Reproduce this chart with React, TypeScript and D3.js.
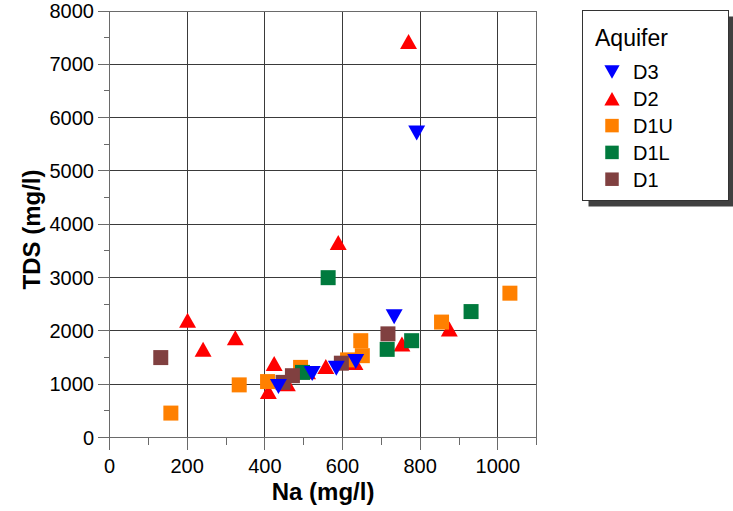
import React from "react";
import * as d3 from "d3";

// Na vs TDS by aquifer — values in mg/l
const seriesNames = ["D3", "D2", "D1U", "D1L", "D1"];
const seriesColors = ["#0000FF", "#FF0000", "#FF8000", "#007A3D", "#804040"];
const seriesShapes = ["down", "up", "square", "square", "square"];

const naD3 = [435, 522, 584, 634, 733, 791];
const tdsD3 = [955, 1200, 1300, 1425, 2263, 5710];

const naD2 = [770, 589, 201, 324, 241, 875, 753, 632, 557, 510, 458, 424, 409];
const tdsD2 = [7428, 3660, 2201, 1872, 1653, 2034, 1756, 1409, 1330, 1235, 1006, 1388, 861];

const naD1U = [158, 334, 407, 492, 613, 647, 651, 855, 1031];
const tdsD1U = [458, 987, 1049, 1315, 1456, 1816, 1535, 2165, 2707];

const naD1L = [563, 931, 778, 715, 497];
const tdsD1L = [2998, 2362, 1816, 1653, 1221];

const naD1 = [132, 717, 597, 471, 447];
const tdsD1 = [1499, 1944, 1394, 1159, 1034];

const xMajorTicks = [0, 200, 400, 600, 800, 1000];
const xMinorTicks = [100, 300, 500, 700, 900, 1100];
const yMajorTicks = [0, 1000, 2000, 3000, 4000, 5000, 6000, 7000, 8000];
const yMinorTicks = [500, 1500, 2500, 3500, 4500, 5500, 6500, 7500];

const xTitle = "Na (mg/l)";
const yTitle = "TDS (mg/l)";
const legendTitle = "Aquifer";

const FONT = "'Liberation Sans', Arial, Helvetica, sans-serif";

const W = 733;
const H = 511;

const x = d3.scaleLinear().domain([0, 1100]).range([109.5, 536.7]);
const y = d3.scaleLinear().domain([0, 8000]).range([437.5, 11]);

const seriesData: { na: number[]; tds: number[] }[] = [
  { na: naD3, tds: tdsD3 },
  { na: naD2, tds: tdsD2 },
  { na: naD1U, tds: tdsD1U },
  { na: naD1L, tds: tdsD1L },
  { na: naD1, tds: tdsD1 },
];

// drawing order: D2, D1U, D1L, D1, then D3 on top
const drawOrder = [1, 2, 3, 4, 0];

function markerPath(shape: string, cx: number, cy: number, s: number): string {
  if (shape === "square") {
    const h = s / 2;
    return `M${cx - h},${cy - h}H${cx + h}V${cy + h}H${cx - h}Z`;
  }
  const w = s * 1.13;
  const h = s;
  if (shape === "up") {
    return `M${cx},${cy - h / 2}L${cx + w / 2},${cy + h / 2}L${cx - w / 2},${cy + h / 2}Z`;
  }
  return `M${cx - w / 2},${cy - h / 2}L${cx + w / 2},${cy - h / 2}L${cx},${cy + h / 2}Z`;
}

const snap = (v: number) => Math.round(v - 0.5) + 0.5;

export default function App() {
  const left = snap(x(0));
  const right = snap(x(1100));
  const top = snap(y(8000));
  const bottom = snap(y(0));

  return (
    <svg
      width={W}
      height={H}
      viewBox={`0 0 ${W} ${H}`}
      style={{ position: "absolute", left: 0, top: 0, background: "#fff" }}
    >
      {/* gridlines */}
      <g stroke="#3a3a3a" strokeWidth={1} shapeRendering="crispEdges">
        {xMajorTicks.filter((t) => t > 0).map((t) => (
          <line key={"gx" + t} x1={snap(x(t))} x2={snap(x(t))} y1={top} y2={bottom} />
        ))}
        {yMajorTicks.filter((t) => t > 0 && t < 8000).map((t) => (
          <line key={"gy" + t} x1={left} x2={right} y1={snap(y(t))} y2={snap(y(t))} />
        ))}
      </g>

      {/* frame and axes */}
      <g stroke="#6a6a6a" strokeWidth={1.5} fill="none" shapeRendering="crispEdges">
        <line x1={left} x2={right} y1={top} y2={top} />
        <line x1={right} x2={right} y1={top} y2={bottom} />
        <line x1={left} x2={left} y1={top} y2={bottom} />
        <line x1={left} x2={right} y1={bottom} y2={bottom} />
        {xMajorTicks.map((t) => (
          <line key={"xt" + t} x1={snap(x(t))} x2={snap(x(t))} y1={bottom} y2={bottom + 12} />
        ))}
        {xMinorTicks.map((t) => (
          <line key={"xm" + t} x1={snap(x(t))} x2={snap(x(t))} y1={bottom} y2={bottom + 7} />
        ))}
        {yMajorTicks.map((t) => (
          <line key={"yt" + t} x1={left - 12} x2={left} y1={snap(y(t))} y2={snap(y(t))} />
        ))}
        {yMinorTicks.map((t) => (
          <line key={"ym" + t} x1={left - 6} x2={left} y1={snap(y(t))} y2={snap(y(t))} />
        ))}
      </g>

      {/* tick labels */}
      <g fontFamily={FONT} fontSize={20} fill="#000">
        {xMajorTicks.map((t) => (
          <text key={"xl" + t} x={x(t)} y={473} textAnchor="middle">
            {t}
          </text>
        ))}
        {yMajorTicks.map((t) => (
          <text key={"yl" + t} x={94} y={y(t) + 7} textAnchor="end">
            {t}
          </text>
        ))}
      </g>

      {/* axis titles */}
      <text
        x={(x(0) + x(1100)) / 2}
        y={500}
        textAnchor="middle"
        fontFamily={FONT}
        fontWeight="bold"
        fontSize={24}
      >
        {xTitle}
      </text>
      <text
        transform={`translate(40,${229.5}) rotate(-90)`}
        textAnchor="middle"
        fontFamily={FONT}
        fontWeight="bold"
        fontSize={24}
      >
        {yTitle}
      </text>

      {/* points */}
      <g>
        {drawOrder.map((si) =>
          seriesData[si].na.map((na, i) => (
            <path
              key={`p${si}-${i}`}
              d={markerPath(seriesShapes[si], x(na), y(seriesData[si].tds[i]), 15)}
              fill={seriesColors[si]}
            />
          ))
        )}
      </g>

      {/* legend */}
      <g>
        <rect x={588.5} y={16.5} width={146} height={190} fill="#404040" />
        <rect x={582.5} y={10.5} width={146} height={190} fill="#fff" stroke="#333" strokeWidth={1} />
        <text x={595} y={45.5} fontFamily={FONT} fontSize={23} fill="#000">
          {legendTitle}
        </text>
        {seriesNames.map((name, i) => {
          const cy = 72 + i * 26.8;
          return (
            <g key={"lg" + name}>
              <path d={markerPath(seriesShapes[i], 612, cy, 13.5)} fill={seriesColors[i]} />
              <text x={633} y={cy + 7.3} fontFamily={FONT} fontSize={20} fill="#000">
                {name}
              </text>
            </g>
          );
        })}
      </g>
    </svg>
  );
}
